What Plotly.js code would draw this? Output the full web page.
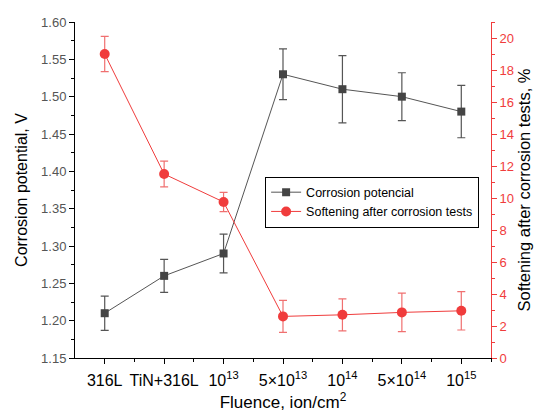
<!DOCTYPE html>
<html>
<head>
<meta charset="utf-8">
<script src="https://cdn.plot.ly/plotly-3.0.1.min.js"></script>
<style>html,body{margin:0;padding:0;background:#fff;}#chart{width:539px;height:412px;}</style>
</head>
<body>
<div id="chart"></div>
<script>
const categories = ["316L", "TiN+316L", "10<sup>13</sup>", "5×10<sup>13</sup>", "10<sup>14</sup>", "5×10<sup>14</sup>", "10<sup>15</sup>"];
const potential = [1.21, 1.26, 1.29, 1.53, 1.51, 1.50, 1.48];
const potentialErr = [0.023, 0.022, 0.026, 0.034, 0.045, 0.032, 0.035];
const softening = [19.0, 11.5, 9.75, 2.6, 2.7, 2.85, 2.95];
const softeningErr = [1.1, 0.8, 0.6, 1.0, 1.0, 1.2, 1.2];
const leftTicks = [1.15, 1.20, 1.25, 1.30, 1.35, 1.40, 1.45, 1.50, 1.55, 1.60];
const rightTicks = [0, 2, 4, 6, 8, 10, 12, 14, 16, 18, 20];

const idx = categories.map((c, i) => i);
const font = "Liberation Sans, Arial, sans-serif";
const red = "#f03c3c";

const traces = [
  {
    x: idx, y: potential, name: "Corrosion potencial", type: "scatter", mode: "lines+markers",
    line: {color: "#555555", width: 1},
    marker: {symbol: "square", size: 8, color: "#444444"},
    error_y: {type: "data", array: potentialErr, visible: true, color: "#555555", thickness: 1.2, width: 4}
  },
  {
    x: idx, y: softening, name: "Softening after corrosion tests", type: "scatter", mode: "lines+markers",
    yaxis: "y2",
    line: {color: red, width: 1},
    marker: {symbol: "circle", size: 10, color: red},
    error_y: {type: "data", array: softeningErr, visible: true, color: "#f07070", thickness: 1.2, width: 4}
  }
];

const layout = {
  width: 539, height: 412,
  margin: {l: 75, r: 48, t: 22, b: 54},
  paper_bgcolor: "#fff", plot_bgcolor: "#fff",
  font: {family: font, color: "#000"},
  showlegend: true,
  legend: {
    x: 0.457, y: 0.54, xanchor: "left", yanchor: "top",
    bordercolor: "#000", borderwidth: 1, bgcolor: "#fff",
    font: {family: font, size: 12.5, color: "#000"},
    tracegroupgap: 0, itemwidth: 30
  },
  xaxis: {
    range: [-0.5, 6.5], tickmode: "array", tickvals: idx, ticktext: categories,
    showgrid: false, zeroline: false, showline: true, linecolor: "#000", linewidth: 1,
    ticks: "outside", ticklen: 5, tickcolor: "#000", ticklabelstandoff: 3,
    minor: {tickvals: idx.map(i => i + 0.5), ticks: "outside", ticklen: 3, tickcolor: "#000"},
    tickfont: {family: font, size: 16, color: "#000"},
    title: {text: "Fluence, ion/cm<sup>2</sup>", font: {family: font, size: 17, color: "#000"}, standoff: 12}
  },
  xaxis2: {
    overlaying: "x", side: "top", anchor: "y", matches: "x", range: [-0.5, 6.5],
    tickmode: "array", tickvals: idx, showticklabels: false,
    showgrid: false, zeroline: false, showline: true, linecolor: "#000", linewidth: 1,
    ticks: "inside", ticklen: 5, tickcolor: "#000",
    minor: {tickvals: idx.map(i => i + 0.5), ticks: "inside", ticklen: 3, tickcolor: "#000"}
  },
  yaxis: {
    range: [1.15, 1.60], tickmode: "array", tickvals: leftTicks, ticktext: leftTicks.map(v => v.toFixed(2)),
    showgrid: false, zeroline: false, showline: true, linecolor: "#000", linewidth: 1,
    ticks: "outside", ticklen: 5, tickcolor: "#000",
    minor: {tickvals: leftTicks.map(v => v + 0.025), ticks: "outside", ticklen: 3, tickcolor: "#000"},
    tickfont: {family: font, size: 13, color: "#555"},
    title: {text: "Corrosion potential, V", font: {family: font, size: 16, color: "#000"}, standoff: 9}
  },
  yaxis2: {
    overlaying: "y", side: "right", range: [0, 21],
    tickmode: "array", tickvals: rightTicks,
    showgrid: false, zeroline: false, showline: true, linecolor: red, linewidth: 1,
    ticks: "outside", ticklen: 5, tickcolor: red,
    minor: {tickvals: rightTicks.map(v => v + 1), ticks: "outside", ticklen: 3, tickcolor: red},
    tickfont: {family: font, size: 13, color: red},
    title: {text: "Softening after corrosion tests, %", font: {family: font, size: 16.5, color: "#000"}, standoff: 5}
  }
};

Plotly.newPlot("chart", traces, layout, {displayModeBar: false, staticPlot: true});
</script>
</body>
</html>
